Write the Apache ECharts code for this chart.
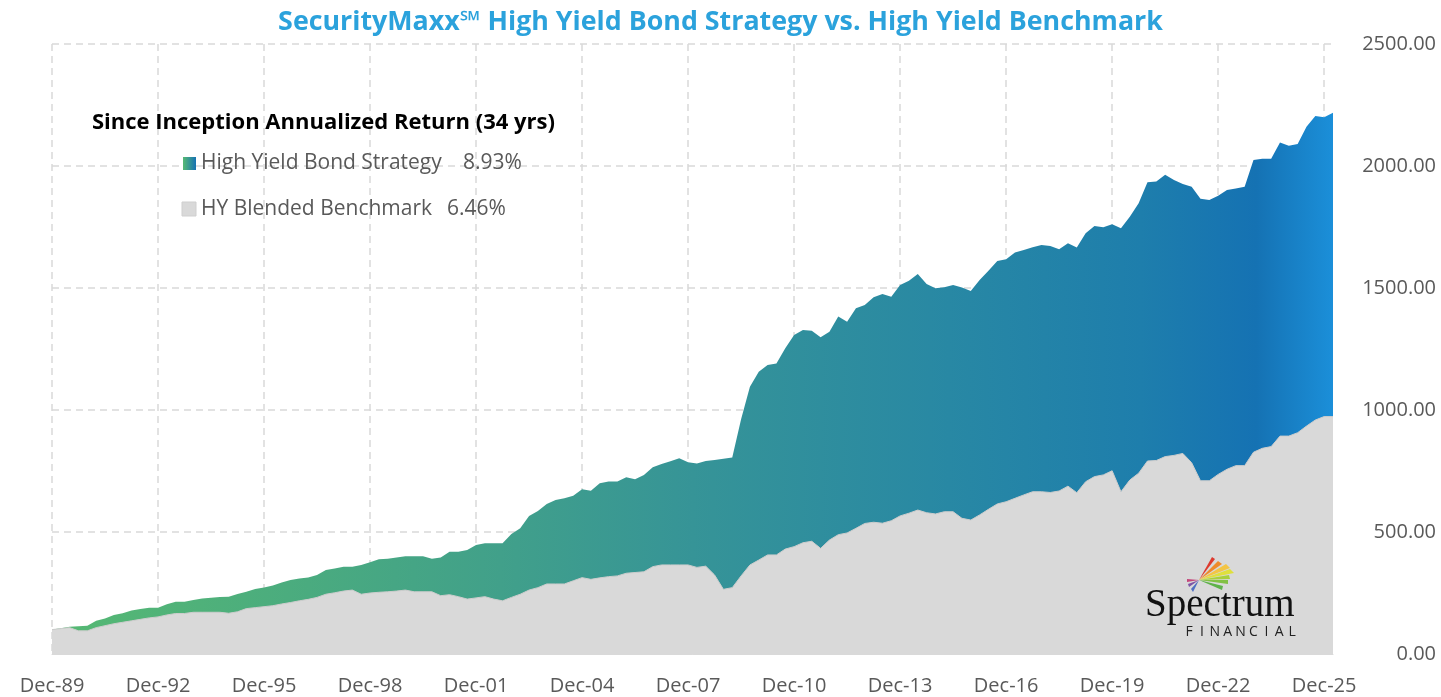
<!DOCTYPE html>
<html>
<head>
<meta charset="utf-8">
<title>SecurityMaxx High Yield Bond Strategy</title>
<script src="https://cdn.jsdelivr.net/npm/echarts@6/dist/echarts.min.js"></script>
<style>
  html, body { margin: 0; padding: 0; background: #fff; }
  #chart { width: 1441px; height: 697px; }
</style>
</head>
<body>
<div id="chart"></div>
<script>
// quarterly growth of 100, Dec-89 .. Mar-26
const strategy = [
  100, 106, 112, 114, 116, 136, 146, 160, 167, 178, 184, 190,
  190, 204, 214, 214, 221, 227, 231, 234, 235, 246, 255, 266,
  273, 281, 293, 303, 309, 314, 324, 344, 350, 358, 358, 365,
  376, 388, 390, 395, 401, 401, 401, 390, 396, 419, 419, 426,
  447, 454, 454, 454, 492, 515, 566, 586, 615, 631, 638, 649,
  675, 669, 700, 707, 707, 724, 716, 734, 765, 779, 790, 802,
  786, 781, 791, 795, 800, 805, 962, 1095, 1157, 1184, 1191, 1253,
  1307, 1328, 1325, 1298, 1321, 1383, 1362, 1417, 1430, 1462, 1475, 1464,
  1512, 1530, 1557, 1516, 1499, 1503, 1512, 1502, 1488, 1533, 1571, 1611,
  1618, 1646, 1656, 1667, 1676, 1672, 1659, 1683, 1666, 1724, 1754, 1749,
  1761, 1745, 1792, 1847, 1933, 1936, 1964, 1943, 1926, 1915, 1866, 1861,
  1878, 1902, 1908, 1915, 2025, 2030, 2030, 2096, 2083, 2090, 2161, 2205,
  2200, 2218,
];

const benchmark = [
  100, 104, 108, 95, 95, 108, 116, 124, 130, 136, 142, 148,
  152, 160, 166, 166, 171, 171, 171, 171, 167, 173, 186, 190,
  194, 198, 205, 211, 218, 224, 232, 245, 251, 258, 262, 245,
  250, 253, 255, 258, 262, 255, 255, 255, 239, 243, 235, 225,
  230, 235, 225, 218, 232, 245, 262, 272, 287, 287, 287, 300,
  313, 306, 312, 317, 320, 331, 334, 337, 358, 365, 365, 365,
  365, 355, 360, 324, 265, 272, 320, 365, 385, 406, 406, 430,
  440, 456, 462, 433, 467, 489, 496, 515, 535, 540, 536, 546,
  566, 577, 590, 579, 574, 583, 583, 556, 549, 570, 593, 615,
  624, 638, 652, 665, 665, 662, 668, 688, 661, 706, 727, 734,
  751, 665, 713, 741, 791, 793, 809, 814, 822, 784, 710, 710,
  736, 757, 772, 772, 827, 843, 850, 893, 893, 907, 934, 959,
  973, 973,
];

const seriesNames = ["High Yield Bond Strategy", "HY Blended Benchmark"];
const annualized = ["8.93%", "6.46%"];
const quarterMonths = ["Dec", "Mar", "Jun", "Sep"];
const firstYear = 1989;

const quarters = strategy.map((_, i) => {
  const m = quarterMonths[i % 4];
  const y = i % 4 === 0 ? firstYear + i / 4 : firstYear + Math.floor(i / 4) + 1;
  return `${m}-${String(y % 100).padStart(2, "0")}`;
});

const FONT = "'Open Sans', 'Noto Sans', sans-serif";
const GREY = "#595959";
const everyThreeYears = (index) => index % 12 === 0;

const chart = echarts.init(document.querySelector("#chart"));

const strategyFill = new echarts.graphic.LinearGradient(0, 0, 1, 0, [
  { offset: 0, color: "#56b973" },
  { offset: 0.2, color: "#4aab7f" },
  { offset: 0.35, color: "#41a08a" },
  { offset: 0.5, color: "#369497" },
  { offset: 0.7, color: "#2888a4" },
  { offset: 0.85, color: "#1e7eac" },
  { offset: 0.94, color: "#1572b3" },
  { offset: 1, color: "#1b8fd9" },
]);

// spectrum fan in the logo: [dx1, dy1, dx2, dy2, colour] relative to origin
const rays = [
  [13, -23, 16, -21, "#dd3a2e"],
  [19, -19, 23, -16, "#ee8b2b"],
  [27, -16, 31, -12, "#f3c544"],
  [31, -11, 35, -7, "#dfe03c"],
  [30, -5, 31, -1, "#a9d03c"],
  [29, 0, 29, 4, "#82c144"],
  [24, 6, 23, 10, "#5eb24a"],
  [-12, -1, -12, 2, "#c4467a"],
  [-11, 4, -10, 7, "#7e55a6"],
  [-8, 9, -6, 12, "#4f6fc2"],
];
const rayOrigin = [1199, 580];

const financial = "FINANCIAL".split("").map((ch, k) => ({
  type: "text",
  z: 10,
  x: 1189 + k * 12.9,
  y: 632,
  style: {
    text: ch,
    fill: "#222",
    font: `14px ${FONT}`,
    align: "center",
    verticalAlign: "middle",
  },
}));

chart.setOption({
  animation: false,
  backgroundColor: "#fff",
  title: {
    text: "SecurityMaxx\u2120 High Yield Bond Strategy vs. High Yield Benchmark",
    left: "center",
    top: 4,
    textStyle: { color: "#2ba2dc", fontSize: 26.8, fontWeight: "bold", fontFamily: FONT },
  },
  grid: { left: 52, right: 108, top: 44, bottom: 43 },
  xAxis: {
    type: "category",
    data: quarters,
    boundaryGap: false,
    axisLine: { lineStyle: { color: "#d9d9d9" } },
    axisTick: { show: false },
    axisLabel: {
      interval: everyThreeYears,
      color: GREY,
      fontSize: 20,
      fontFamily: FONT,
      margin: 22,
    },
    splitLine: {
      show: true,
      interval: everyThreeYears,
      lineStyle: { color: "#d9d9d9", type: [7, 5], width: 1.5 },
    },
  },
  yAxis: {
    type: "value",
    position: "right",
    min: 0,
    max: 2500,
    interval: 500,
    axisLine: { show: false },
    axisTick: { show: false },
    axisLabel: {
      formatter: (v) => v.toFixed(2),
      color: GREY,
      fontSize: 20,
      fontFamily: FONT,
      align: "right",
      margin: 103,
    },
    splitLine: { lineStyle: { color: "#d9d9d9", type: [7, 5], width: 1.5 } },
  },
  series: [
    {
      name: seriesNames[0],
      type: "line",
      data: strategy,
      symbol: "none",
      lineStyle: { width: 0 },
      areaStyle: { color: strategyFill, opacity: 1 },
      z: 2,
    },
    {
      name: seriesNames[1],
      type: "line",
      data: benchmark,
      symbol: "none",
      lineStyle: { width: 1, color: "#cdcdcd" },
      areaStyle: { color: "#d9d9d9", opacity: 1 },
      z: 3,
    },
  ],
  graphic: [
    {
      type: "text",
      z: 10,
      left: 92,
      top: 112,
      style: {
        text: "Since Inception Annualized Return (34 yrs)",
        fill: "#000",
        font: `bold 22px ${FONT}`,
      },
    },
    {
      type: "rect",
      z: 10,
      shape: { x: 183, y: 157, width: 13, height: 13 },
      style: {
        fill: new echarts.graphic.LinearGradient(0, 0, 1, 0, [
          { offset: 0, color: "#56b973" },
          { offset: 1, color: "#1672b3" },
        ]),
      },
    },
    {
      type: "text",
      z: 10,
      left: 201,
      top: 153,
      style: { text: seriesNames[0], fill: GREY, font: `21px ${FONT}` },
    },
    {
      type: "text",
      z: 10,
      left: 463,
      top: 153,
      style: { text: annualized[0], fill: GREY, font: `21px ${FONT}` },
    },
    {
      type: "rect",
      z: 10,
      shape: { x: 182, y: 202, width: 14, height: 14 },
      style: { fill: "#d9d9d9", stroke: "#cfcfcf", lineWidth: 1 },
    },
    {
      type: "text",
      z: 10,
      left: 201,
      top: 199,
      style: { text: seriesNames[1], fill: GREY, font: `21px ${FONT}` },
    },
    {
      type: "text",
      z: 10,
      left: 447,
      top: 199,
      style: { text: annualized[1], fill: GREY, font: `21px ${FONT}` },
    },
    // Spectrum Financial logo
    ...rays.map(([x1, y1, x2, y2, color]) => ({
      type: "polygon",
      z: 10,
      shape: {
        points: [
          rayOrigin,
          [rayOrigin[0] + x1, rayOrigin[1] + y1],
          [rayOrigin[0] + x2, rayOrigin[1] + y2],
        ],
      },
      style: { fill: color },
    })),
    {
      type: "text",
      z: 10,
      left: 1145,
      top: 586,
      style: {
        text: "Spectrum",
        fill: "#111",
        font: "39px 'Liberation Serif', 'DejaVu Serif', serif",
      },
    },
    ...financial,
  ],
});
</script>
</body>
</html>
